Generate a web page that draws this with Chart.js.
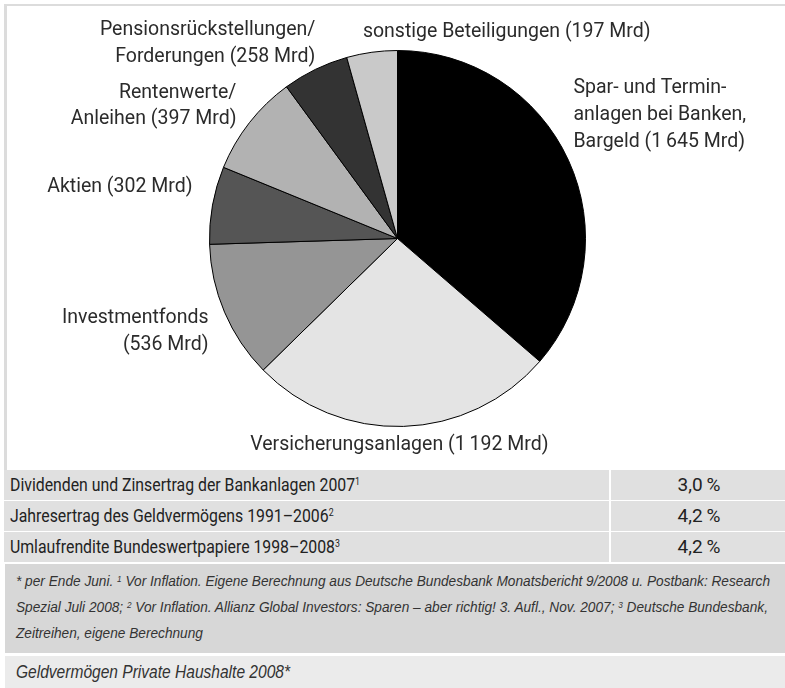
<!DOCTYPE html>
<html>
<head>
<meta charset="utf-8">
<script src="https://cdn.jsdelivr.net/npm/chart.js@4.4.1/dist/chart.umd.min.js"></script>
<style>
  html, body { margin:0; padding:0; background:#fff; width:785px; height:688px; overflow:hidden; }
  #frameTop { position:absolute; left:4px; top:4px; width:781px; height:2px; background:#dcdcdc; }
  #frameLeft { position:absolute; left:4px; top:4px; width:3px; height:466px; background:#dcdcdc; }
  #chartWrap { position:absolute; left:0; top:0; width:785px; height:470px; }
  .row { position:absolute; left:4px; width:781px; height:30px; background:#e0e0e0;
         font-family: Roboto, "DejaVu Sans", sans-serif; font-size:18px; color:#222; }
  .row .lab { position:absolute; left:6px; top:0; line-height:30px; white-space:nowrap; transform-origin:0 50%; }
  .row .val { position:absolute; left:605px; width:176px; top:0; height:30px; line-height:30px;
              text-align:center; border-left:2px solid #fff; font-size:19px; }
  .row sup { font-size:10px; vertical-align:top; position:relative; top:-3px; }
  #foot { position:absolute; left:5px; top:564px; width:780px; height:89px; background:#d7d7d7;
          font-family:"Liberation Sans","Arimo",sans-serif; font-style:italic;
          font-size:15px; color:#333; overflow:hidden; }
  #foot div { position:absolute; left:11px; white-space:nowrap; transform-origin:0 50%; }
  #foot sup { font-size:9px; vertical-align:top; position:relative; top:-2px; }
  #caption { position:absolute; left:5px; top:656px; width:780px; height:32px; background:#ebebeb;
             font-family:"Liberation Sans","Arimo",sans-serif; font-style:italic;
             font-size:18px; color:#333; overflow:hidden; }
  #caption div { position:absolute; left:11px; top:0; line-height:32px; white-space:nowrap; transform-origin:0 50%; }
</style>
</head>
<body>
<div id="frameTop"></div>
<div id="frameLeft"></div>
<div id="chartWrap"><canvas id="c" width="785" height="470"></canvas></div>
<div id="table"></div>
<div id="foot"></div>
<div id="caption"></div>
<script>
// ---- Data ----
const categoryLines = [
  ["Spar- und Termin-", "anlagen bei Banken,", "Bargeld"],
  ["Versicherungsanlagen"],
  ["Investmentfonds", ""],
  ["Aktien"],
  ["Rentenwerte/", "Anleihen"],
  ["Pensionsrückstellungen/", "Forderungen"],
  ["sonstige Beteiligungen"]
];
const valuesMrd = [1645, 1192, 536, 302, 397, 258, 197];
const sliceColors = ["#000000", "#e4e4e4", "#959595", "#555555", "#b2b2b2", "#333333", "#c9c9c9"];

const tableLabels = [
  "Dividenden und Zinsertrag der Bankanlagen 2007",
  "Jahresertrag des Geldvermögens 1991–2006",
  "Umlaufrendite Bundeswertpapiere 1998–2008"
];
const tableNotes = ["1", "2", "3"];
const tableValues = [3.0, 4.2, 4.2];

const footLines = [
  '* per Ende Juni. <sup>1</sup> Vor Inflation. Eigene Berechnung aus Deutsche Bundesbank Monatsbericht 9/2008 u. Postbank: Research',
  'Spezial Juli 2008; <sup>2</sup> Vor Inflation. Allianz Global Investors: Sparen – aber richtig! 3. Aufl., Nov. 2007; <sup>3</sup> Deutsche Bundesbank,',
  'Zeitreihen, eigene Berechnung'
];
const captionText = "Geldvermögen Private Haushalte 2008*";

// ---- Helpers ----
function fmtMrd(v) {
  const s = String(v);
  return s.length > 3 ? s.slice(0, s.length - 3) + "\u2009" + s.slice(-3) : s;
}
const labelTexts = categoryLines.map((lines, i) => {
  const out = lines.slice();
  const last = out.length - 1;
  const tail = "(" + fmtMrd(valuesMrd[i]) + " Mrd)";
  out[last] = out[last] ? out[last] + " " + tail : tail;
  return out;
});
// label placement style relative to slice mid-point on the rim
const labelPlacement = [
  {align:"left",   dx:5,   dy:-72},
  {align:"center", dx:-4,  dy:19},
  {align:"right",  dx:-16, dy:6},
  {align:"right",  dx:-20, dy:-18},
  {align:"right",  dx:-13, dy:-30},
  {align:"right",  dx:0,   dy:-39},
  {align:"left",   dx:-9,  dy:-20}
];

const outsideLabels = {
  id: "outsideLabels",
  afterDraw(chart) {
    const ctx = chart.ctx;
    const meta = chart.getDatasetMeta(0);
    ctx.save();
    ctx.font = "19.5px Roboto, 'DejaVu Sans', sans-serif";
    ctx.fillStyle = "#2b2b2b";
    ctx.textBaseline = "middle";
    meta.data.forEach((arc, i) => {
      const p = arc.getProps(["x", "y", "startAngle", "endAngle", "outerRadius"], true);
      const mid = (p.startAngle + p.endAngle) / 2;
      const ax = p.x + Math.cos(mid) * p.outerRadius;
      const ay = p.y + Math.sin(mid) * p.outerRadius;
      const pl = labelPlacement[i];
      ctx.textAlign = pl.align;
      labelTexts[i].forEach((line, j) => {
        ctx.fillText(line, ax + pl.dx, ay + pl.dy + j * 26.8);
      });
    });
    ctx.restore();
  }
};

new Chart(document.getElementById("c"), {
  type: "pie",
  data: {
    labels: labelTexts.map(l => l.join(" ")),
    datasets: [{
      data: valuesMrd,
      backgroundColor: sliceColors,
      borderColor: "#000",
      borderWidth: 1
    }]
  },
  options: {
    responsive: false,
    devicePixelRatio: 1,
    animation: false,
    layout: { padding: { left: 150, right: 140, top: 50, bottom: 43 } },
    plugins: { legend: { display: false }, tooltip: { enabled: false } }
  },
  plugins: [outsideLabels]
});

// ---- Table ----
const tbl = document.getElementById("table");
const labEls = [];
tableLabels.forEach((t, i) => {
  const r = document.createElement("div");
  r.className = "row";
  r.style.top = (470 + i * 31) + "px";
  r.innerHTML = '<div class="lab">' + t + '<sup>' + tableNotes[i] + '</sup></div>' +
    '<div class="val">' + tableValues[i].toFixed(1).replace(".", ",") + '\u2009%</div>';
  tbl.appendChild(r);
  labEls.push(r.querySelector(".lab"));
});
function fitGroup(els, refEl, target) {
  const w = refEl.getBoundingClientRect().width;
  const s = target / w;
  els.forEach(e => { e.style.transform = "scaleX(" + s + ")"; });
}
fitGroup(labEls, labEls[0], 350);

const foot = document.getElementById("foot");
const footEls = [];
footLines.forEach((t, i) => {
  const d = document.createElement("div");
  d.style.top = (4 + i * 26) + "px";
  d.style.lineHeight = "26px";
  d.innerHTML = t;
  foot.appendChild(d);
  footEls.push(d);
});
fitGroup(footEls, footEls[0], 754);

const cap = document.getElementById("caption");
cap.innerHTML = "<div>" + captionText + "</div>";
fitGroup([cap.firstChild], cap.firstChild, 274);
</script>
</body>
</html>
